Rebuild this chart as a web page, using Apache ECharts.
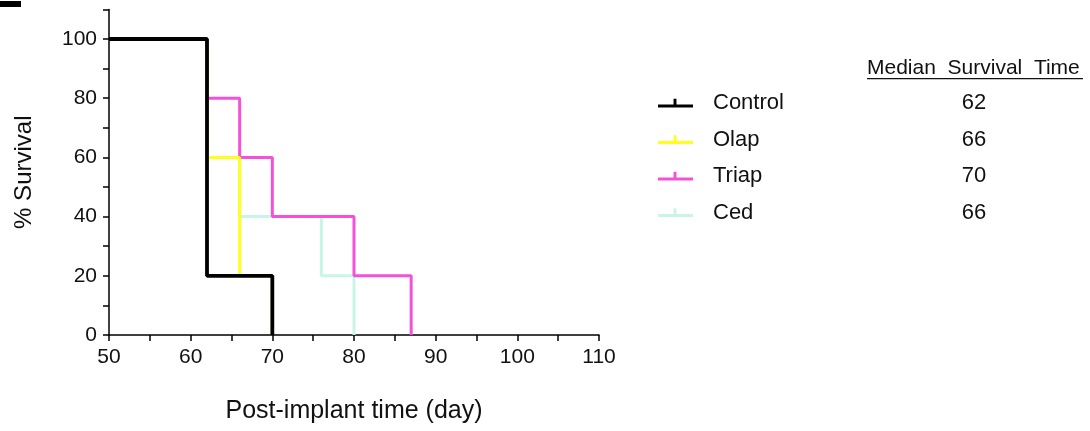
<!DOCTYPE html>
<html>
<head>
<meta charset="utf-8">
<script src="https://cdn.jsdelivr.net/npm/echarts@6/dist/echarts.min.js"></script>
<style>
  html, body { margin: 0; padding: 0; background: #fff; }
  #chart { width: 1090px; height: 431px; }
</style>
</head>
<body>
<div id="chart"></div>
<script>
// Kaplan-Meier steps: survival holds until the next time, then drops
const groups = ["Control", "Olap", "Triap", "Ced"];
const colors = ["#000000", "#ffff1a", "#f550d8", "#c8f5e8"];
const controlTimes = [50, 62, 70];
const controlSurv = [100, 20, 0];
const olapTimes = [50, 62, 66, 70];
const olapSurv = [100, 60, 20, 0];
const triapTimes = [50, 62, 66, 70, 80, 87];
const triapSurv = [100, 80, 60, 40, 20, 0];
const cedTimes = [50, 62, 66, 76, 80];
const cedSurv = [100, 60, 40, 20, 0];
const medians = [62, 66, 70, 66];

const times = [controlTimes, olapTimes, triapTimes, cedTimes];
const survs = [controlSurv, olapSurv, triapSurv, cedSurv];
// draw order: Ced at the bottom, Control on top
const zOrder = [4, 3, 2, 1];
const widths = [3.8, 3, 3, 3];

const font = "'Liberation Sans', Arial, sans-serif";
const iconPath = "path://M0,6L16,6L16,0L19,0L19,6L36,6L36,9L0,9Z";

const series = groups.map((g, i) => ({
  name: g,
  type: "line",
  step: "end",
  showSymbol: false,
  symbol: "none",
  z: zOrder[i],
  color: colors[i],
  lineStyle: { width: widths[i], color: colors[i] },
  data: times[i].map((t, k) => [t, survs[i][k]]),
}));

const chart = echarts.init(document.getElementById("chart"));
chart.setOption({
  animation: false,
  textStyle: { fontFamily: font },
  grid: { left: 109, right: 491, top: 9.4, bottom: 96, containLabel: false },
  xAxis: {
    type: "value",
    min: 50,
    max: 110,
    interval: 5,
    name: "Post-implant time (day)",
    nameLocation: "middle",
    nameGap: 64,
    nameTextStyle: { fontSize: 25, color: "#111", fontFamily: font },
    axisLine: { lineStyle: { color: "#000", width: 1.5 } },
    axisTick: { length: 6, lineStyle: { color: "#000", width: 1.5 } },
    axisLabel: {
      fontSize: 21, color: "#111", margin: 12, fontFamily: font,
      formatter: (v) => (v % 10 === 0 ? String(v) : ""),
    },
    splitLine: { show: false },
  },
  yAxis: {
    type: "value",
    min: 0,
    max: 110,
    interval: 10,
    name: "% Survival",
    nameLocation: "middle",
    nameGap: 73,
    nameRotate: 90,
    nameTextStyle: { fontSize: 24, color: "#111", fontFamily: font },
    axisLine: { show: true, lineStyle: { color: "#000", width: 1.5 } },
    axisTick: { show: true, length: 6, lineStyle: { color: "#000", width: 1.5 } },
    axisLabel: {
      fontSize: 21, color: "#111", margin: 12, fontFamily: font,
      formatter: (v) => (v % 20 === 0 && v <= 100 ? String(v) : ""),
    },
    splitLine: { show: false },
  },
  legend: {
    orient: "vertical",
    left: 653,
    top: 87,
    itemWidth: 35,
    itemHeight: 9,
    itemGap: 14.5,
    selectedMode: false,
    data: groups.map((g) => ({ name: g, icon: iconPath })),
    formatter: (name) => "{n|" + name + "}{m|" + medians[groups.indexOf(name)] + "}",
    textStyle: {
      fontFamily: font,
      fontSize: 22,
      color: "#111",
      rich: {
        n: { width: 240, padding: [0, 0, 0, 15], fontSize: 22, fontFamily: font, color: "#111", lineHeight: 26 },
        m: { width: 42, align: "center", fontSize: 22, fontFamily: font, color: "#111", lineHeight: 26 },
      },
    },
  },
  graphic: [
    { type: "rect", left: 0, top: 1, shape: { width: 21, height: 6 }, style: { fill: "#000" } },
    {
      type: "text", left: 867, top: 58,
      style: { text: "Median  Survival  Time", fontSize: 21, fontFamily: font, fill: "#111" },
    },
    { type: "rect", left: 867, top: 78, shape: { width: 216, height: 1.3 }, style: { fill: "#111" } },
  ],
  series: series,
});
</script>
</body>
</html>
